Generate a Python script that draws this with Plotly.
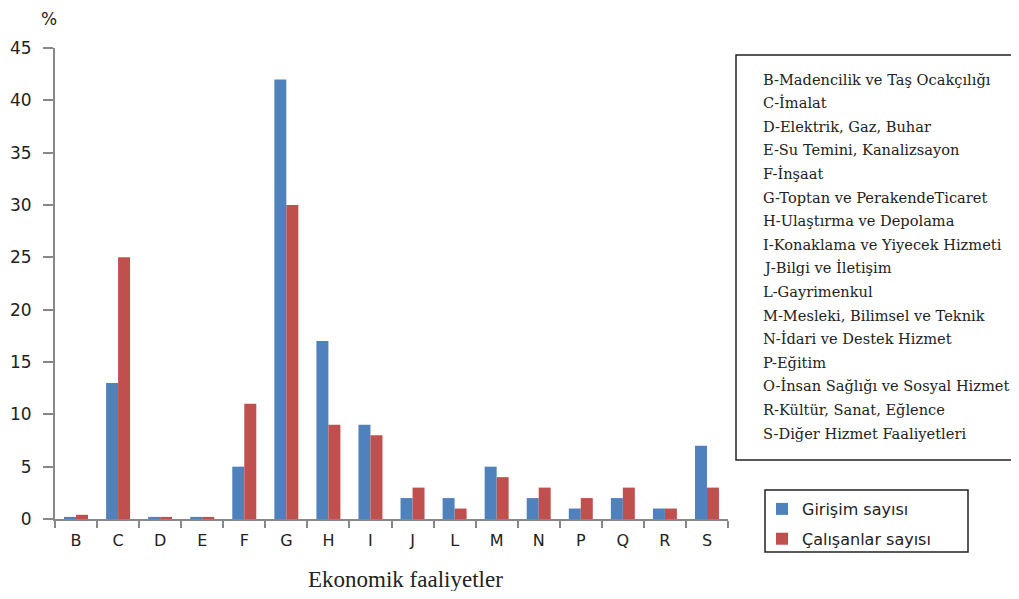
import plotly.graph_objects as go

categories = ["B", "C", "D", "E", "F", "G", "H", "I", "J", "L", "M", "N", "P", "Q", "R", "S"]
girisim = [0.2, 13, 0.2, 0.2, 5, 42, 17, 9, 2, 2, 5, 2, 1, 2, 1, 7]
calisan = [0.4, 25, 0.2, 0.2, 11, 30, 9, 8, 3, 1, 4, 3, 2, 3, 1, 3]
y_ticks = [0, 5, 10, 15, 20, 25, 30, 35, 40, 45]
descriptions = [
    "B-Madencilik ve Taş Ocakçılığı",
    "C-İmalat",
    "D-Elektrik, Gaz, Buhar",
    "E-Su Temini, Kanalizsayon",
    "F-İnşaat",
    "G-Toptan ve PerakendeTicaret",
    "H-Ulaştırma ve Depolama",
    "I-Konaklama ve Yiyecek Hizmeti",
    "J-Bilgi ve İletişim",
    "L-Gayrimenkul",
    "M-Mesleki, Bilimsel ve Teknik",
    "N-İdari ve Destek Hizmet",
    "P-Eğitim",
    "O-İnsan Sağlığı ve Sosyal Hizmet",
    "R-Kültür, Sanat, Eğlence",
    "S-Diğer Hizmet Faaliyetleri",
]

OFF = 8  # page body margin
W, H = 1019 - OFF, 599 - 2 * OFF
# plot area in reference pixels: x 55..728, y 48..519
L = 55 - OFF
T = 48 - OFF
R = W - (728 - OFF)
B = H - (519 - OFF)
pw = W - L - R
ph = H - T - B

def px(x):
    return (x - OFF - L) / pw

def py(y):
    return (H - B - (y - OFF)) / ph

fig = go.Figure()
fig.add_trace(go.Bar(x=categories, y=girisim, name="Girişim sayısı", legendgroup="g1",
                     marker=dict(color="#4F81BD", line=dict(width=0))))
fig.add_trace(go.Bar(x=categories, y=calisan, name="Çalışanlar sayısı", legendgroup="g2",
                     marker=dict(color="#C0504D", line=dict(width=0))))

bx0, bx1, by0, by1 = px(736), px(1060), py(55), py(460)
box_path = f"M {bx1} {by0} L {bx0} {by0} L {bx0} {by1} L {bx1} {by1}"
shapes = [
    dict(type="path", xref="paper", yref="paper", path=box_path,
         line=dict(color="#222222", width=1.5)),
    dict(type="rect", xref="paper", yref="paper", x0=px(765), x1=px(968),
         y0=py(490), y1=py(552), line=dict(color="#222222", width=1.5), fillcolor="rgba(0,0,0,0)"),
]

annotations = [
    dict(text="%", xref="paper", yref="paper", x=px(49), y=py(19), showarrow=False,
         xanchor="center", yanchor="middle",
         font=dict(family="DejaVu Sans", size=17, color="#222222")),
    dict(text="Ekonomik faaliyetler", xref="paper", yref="paper", x=px(405), y=py(579),
         xanchor="center", yanchor="middle",
         showarrow=False, font=dict(family="Liberation Serif", size=23, color="#222222")),
]
for i, d in enumerate(descriptions):
    annotations.append(dict(text=d, xref="paper", yref="paper", x=px(761), y=py(79 + i * 23.6),
                            xanchor="left", yanchor="middle", showarrow=False,
                            font=dict(family="DejaVu Serif", size=14.6, color="#222222")))

fig.update_layout(
    width=W, height=H,
    margin=dict(l=L, r=R, t=T, b=B, autoexpand=False),
    paper_bgcolor="white", plot_bgcolor="white",
    barmode="group", bargap=0.43, bargroupgap=0,
    font=dict(family="DejaVu Sans", size=16, color="#222222"),
    legend=dict(x=px(762), y=py(492), xanchor="left", yanchor="top",
                bgcolor="rgba(0,0,0,0)", borderwidth=0,
                font=dict(family="DejaVu Sans", size=16, color="#222222"),
                itemwidth=30, traceorder="grouped", tracegroupgap=6),
    shapes=shapes,
    annotations=annotations,
    xaxis=dict(showline=True, linecolor="#888888", linewidth=2,
               ticks="outside", ticklen=7, tickcolor="#888888", tickwidth=2,
               tickson="boundaries", showgrid=False, ticklabelstandoff=6,
               tickfont=dict(family="DejaVu Sans", size=16, color="#222222")),
    yaxis=dict(range=[0, 45], tickvals=y_ticks, showline=True, linecolor="#888888",
               linewidth=2, ticks="outside", ticklen=10, tickcolor="#888888", tickwidth=2,
               showgrid=False, zeroline=False, ticklabelstandoff=8,
               tickfont=dict(family="DejaVu Sans", size=17, color="#222222")),
)

fig.write_html("out.html")
